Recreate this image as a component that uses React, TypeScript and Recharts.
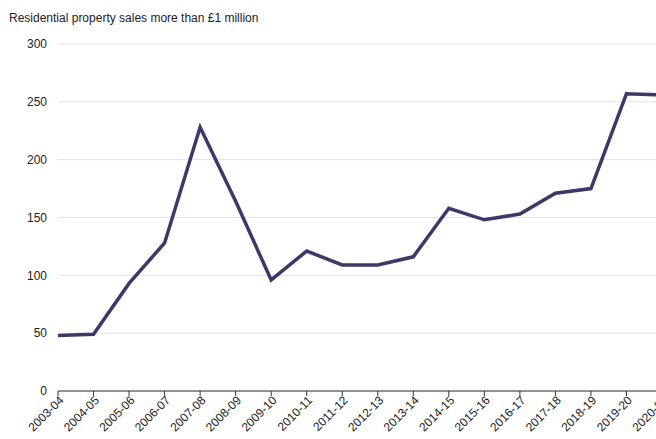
import React from "react";
import { LineChart, Line, XAxis, YAxis, CartesianGrid } from "recharts";

const years = [
  "2003-04", "2004-05", "2005-06", "2006-07", "2007-08", "2008-09", "2009-10",
  "2010-11", "2011-12", "2012-13", "2013-14", "2014-15", "2015-16", "2016-17",
  "2017-18", "2018-19", "2019-20", "2020-21",
];
const sales = [48, 49, 93, 128, 228, 164, 96, 121, 109, 109, 116, 158, 148, 153, 171, 175, 257, 256];
const yTicks = [0, 50, 100, 150, 200, 250, 300];
const title = "Residential property sales more than £1 million";

const data = years.map((y, i) => ({ year: y, value: sales[i] }));

const FONT = "'Liberation Sans', Arial, sans-serif";

const XTick = (props: any) => {
  const { x, y, payload } = props;
  return (
    <g transform={`translate(${x},${y})`}>
      <text
        x={3}
        y={6}
        textAnchor="end"
        transform="rotate(-45)"
        fontSize={12}
        fontFamily={FONT}
        fill="#222"
      >
        {payload.value}
      </text>
    </g>
  );
};

export default function App() {
  return (
    <div
      style={{
        position: "fixed",
        left: 0,
        top: 0,
        width: 656,
        height: 439,
        overflow: "hidden",
        background: "#fff",
      }}
    >
      <div
        style={{
          position: "absolute",
          left: 9,
          top: 11,
          fontFamily: FONT,
          fontSize: 12,
          color: "#222",
          whiteSpace: "nowrap",
        }}
      >
        {title}
      </div>
      <div style={{ position: "absolute", left: 8, top: 8 }}>
        <LineChart
          width={690}
          height={450}
          data={data}
          margin={{ top: 36, right: 36, bottom: 0, left: 0 }}
        >
          <CartesianGrid vertical={false} stroke="#e3e3e3" strokeWidth={1} />
          <XAxis
            dataKey="year"
            interval={0}
            padding={{ left: 0, right: 0 }}
            tick={<XTick />}
            tickSize={5}
            tickMargin={3}
            axisLine={{ stroke: "#333", strokeWidth: 1 }}
            tickLine={{ stroke: "#333" }}
            height={67}
          />
          <YAxis
            domain={[0, 300]}
            ticks={yTicks}
            width={50}
            axisLine={false}
            tickLine={false}
            tickSize={6}
            tickMargin={5}
            tick={{ fontSize: 12, fontFamily: FONT, fill: "#222" }}
          />
          <Line
            type="linear"
            dataKey="value"
            stroke="#3d3868"
            strokeWidth={3.5}
            dot={false}
            activeDot={false}
            isAnimationActive={false}
          />
        </LineChart>
      </div>
    </div>
  );
}
